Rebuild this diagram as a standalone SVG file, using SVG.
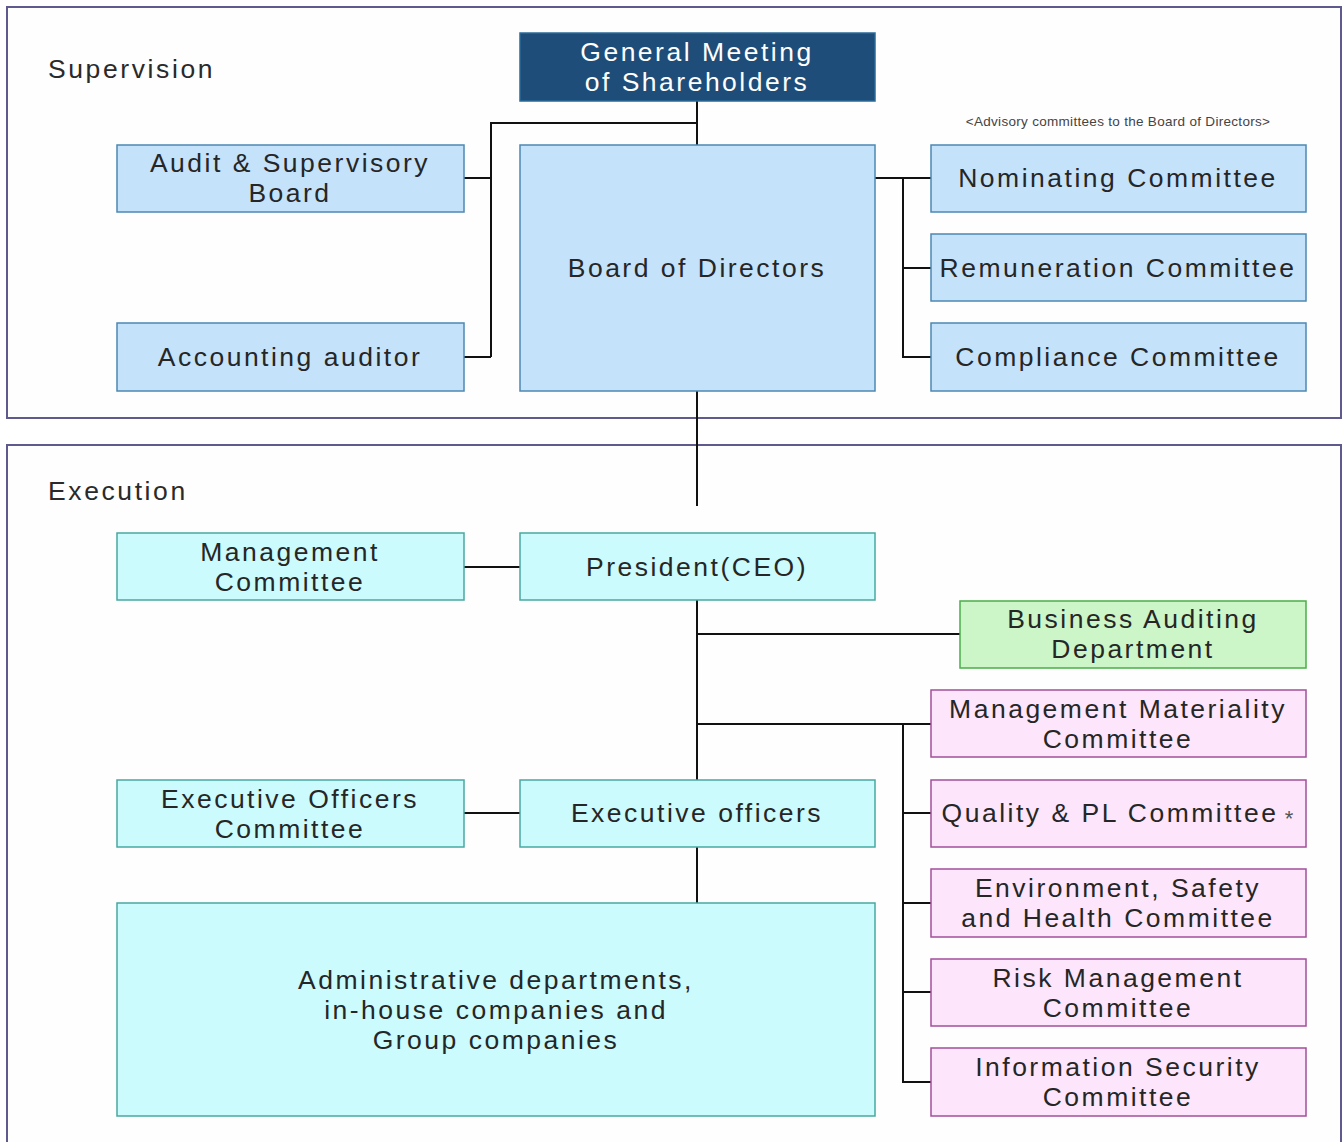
<svg xmlns="http://www.w3.org/2000/svg" width="1344" height="1142" viewBox="0 0 1344 1142">
<style>
.panel{fill:#fefefe;stroke:#5e5a8e;stroke-width:2}
.sec{font-family:"Liberation Sans",Arial,sans-serif;font-size:26.5px;fill:#2a2a2a;letter-spacing:2.6px}
.t{font-family:"Liberation Sans",Arial,sans-serif;font-size:26.5px;fill:#262626;text-anchor:middle;letter-spacing:2.5px}
.blue{fill:#c5e2fb;stroke:#4c88b2;stroke-width:1.5}
.cyan{fill:#ccfbfd;stroke:#48a8a0;stroke-width:1.5}
.green{fill:#ccf5c8;stroke:#4aae48;stroke-width:1.5}
.pink{fill:#fde6fb;stroke:#a24f9a;stroke-width:1.5}
.dark{fill:#1d4d78;stroke:#2a6a98;stroke-width:1.5}
.c{fill:none;stroke:#111;stroke-width:2}
</style>
<rect width="1344" height="1142" fill="#ffffff"/>
<rect class="panel" x="7" y="7" width="1334" height="411"/>
<rect class="panel" x="7" y="445" width="1334" height="705"/>
<text class="sec" x="48" y="78">Supervision</text>
<text class="sec" x="48" y="500">Execution</text>
<text x="1118" y="126" font-family="Liberation Sans, Arial, sans-serif" font-size="13.5" letter-spacing="0.3" fill="#444" text-anchor="middle">&lt;Advisory committees to the Board of Directors&gt;</text>
<g id="connectors">
<path class="c" d="M697 101V145M697 123H491V357M464 178H491M464 357H491"/>
<path class="c" d="M875 178H931M903 178V357H931M903 268H931"/>
<path class="c" d="M697 391V506"/>
<path class="c" d="M464 567H520M697 600V780M697 634H960M697 724H931M903 724V1082H931M903 813H931M903 903H931M903 992H931"/>
<path class="c" d="M464 813H520M697 847V903"/>
</g>
<g id="gm"><rect class="dark" x="520" y="33" width="355" height="68"/><text class="t" x="697" y="61" style="fill:#fff">General Meeting</text><text class="t" x="697" y="91" style="fill:#fff">of Shareholders</text></g>
<g id="board"><rect class="blue" x="520" y="145" width="355" height="246"/><text class="t" x="697" y="277">Board of Directors</text></g>
<g id="audit"><rect class="blue" x="117" y="145" width="347" height="67"/><text class="t" x="290" y="172">Audit &amp; Supervisory</text><text class="t" x="290" y="202">Board</text></g>
<g id="accounting"><rect class="blue" x="117" y="323" width="347" height="68"/><text class="t" x="290" y="366">Accounting auditor</text></g>
<g id="nominating"><rect class="blue" x="931" y="145" width="375" height="67"/><text class="t" x="1118" y="187">Nominating Committee</text></g>
<g id="remuneration"><rect class="blue" x="931" y="234" width="375" height="67"/><text class="t" x="1118" y="277">Remuneration Committee</text></g>
<g id="compliance"><rect class="blue" x="931" y="323" width="375" height="68"/><text class="t" x="1118" y="366">Compliance Committee</text></g>
<g id="mgmt"><rect class="cyan" x="117" y="533" width="347" height="67"/><text class="t" x="290" y="561">Management</text><text class="t" x="290" y="591">Committee</text></g>
<g id="president"><rect class="cyan" x="520" y="533" width="355" height="67"/><text class="t" x="697" y="576">President(CEO)</text></g>
<g id="bad"><rect class="green" x="960" y="601" width="346" height="67"/><text class="t" x="1133" y="628">Business Auditing</text><text class="t" x="1133" y="658">Department</text></g>
<g id="materiality"><rect class="pink" x="931" y="690" width="375" height="67"/><text class="t" x="1118" y="718">Management Materiality</text><text class="t" x="1118" y="748">Committee</text></g>
<g id="quality"><rect class="pink" x="931" y="780" width="375" height="67"/><text class="t" x="1110" y="822">Quality &amp; PL Committee</text><text x="1289" y="826" font-family="Liberation Sans, Arial, sans-serif" font-size="22" fill="#555" text-anchor="middle">*</text></g>
<g id="env"><rect class="pink" x="931" y="869" width="375" height="68"/><text class="t" x="1118" y="897">Environment, Safety</text><text class="t" x="1118" y="927">and Health Committee</text></g>
<g id="risk"><rect class="pink" x="931" y="959" width="375" height="67"/><text class="t" x="1118" y="987">Risk Management</text><text class="t" x="1118" y="1017">Committee</text></g>
<g id="infosec"><rect class="pink" x="931" y="1048" width="375" height="68"/><text class="t" x="1118" y="1076">Information Security</text><text class="t" x="1118" y="1106">Committee</text></g>
<g id="eoc"><rect class="cyan" x="117" y="780" width="347" height="67"/><text class="t" x="290" y="808">Executive Officers</text><text class="t" x="290" y="838">Committee</text></g>
<g id="eo"><rect class="cyan" x="520" y="780" width="355" height="67"/><text class="t" x="697" y="822">Executive officers</text></g>
<g id="admin"><rect class="cyan" x="117" y="903" width="758" height="213"/><text class="t" x="496" y="989">Administrative departments,</text><text class="t" x="496" y="1019">in-house companies and</text><text class="t" x="496" y="1049">Group companies</text></g>
</svg>
